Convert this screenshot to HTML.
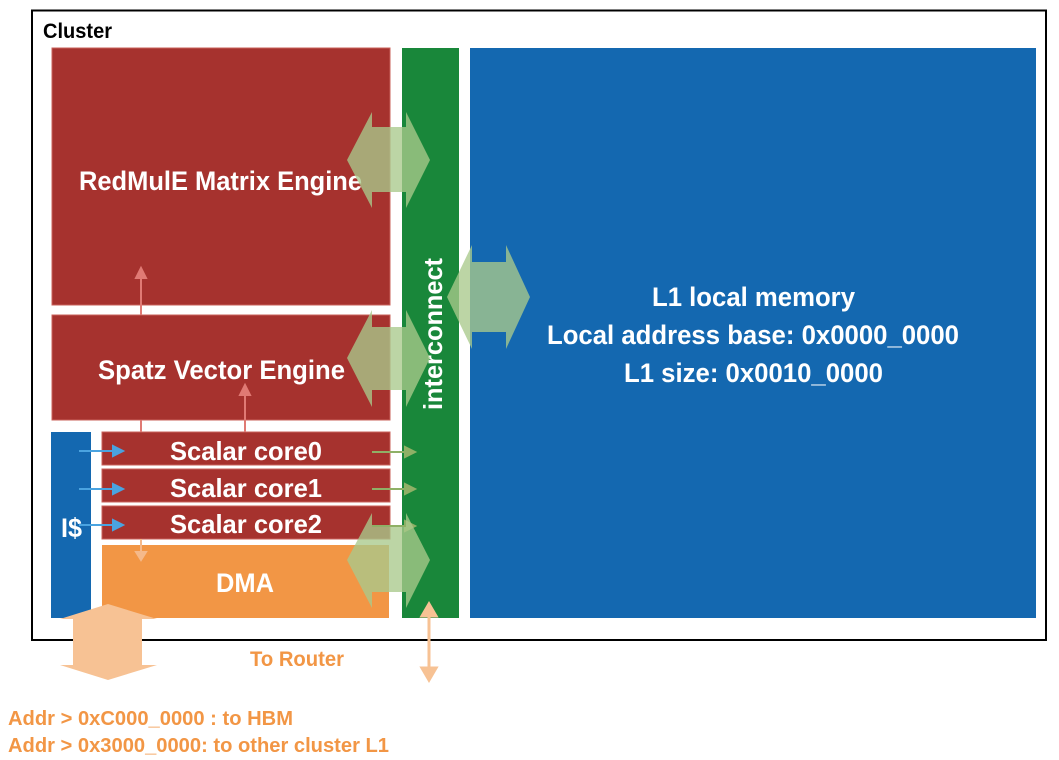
<!DOCTYPE html>
<html><head><meta charset="utf-8"><style>html,body{margin:0;padding:0;background:#fff}svg{display:block}</style></head>
<body>
<svg width="1059" height="760" viewBox="0 0 1059 760" xmlns="http://www.w3.org/2000/svg" font-family="Liberation Sans Narrow, Liberation Sans, sans-serif" font-weight="bold">
<rect x="32" y="10.5" width="1014" height="629.5" fill="none" stroke="#000" stroke-width="2"/>
<text x="43" y="38" font-size="21" fill="#000" textLength="69" lengthAdjust="spacingAndGlyphs">Cluster</text>
<rect x="52" y="48" width="338" height="257" fill="#a6322e" stroke="#c8605a" stroke-width="1"/>
<rect x="52" y="315" width="338" height="105" fill="#a6322e" stroke="#c8605a" stroke-width="1"/>
<rect x="51" y="432" width="40" height="186" fill="#1468b0"/>
<rect x="102" y="432" width="288" height="33" fill="#a6322e" stroke="#c8605a" stroke-width="1"/>
<rect x="102" y="469" width="288" height="33" fill="#a6322e" stroke="#c8605a" stroke-width="1"/>
<rect x="102" y="506" width="288" height="33" fill="#a6322e" stroke="#c8605a" stroke-width="1"/>
<rect x="102" y="545" width="287" height="73" fill="#f29645"/>
<rect x="402" y="48" width="57" height="570" fill="#19873a"/>
<rect x="470" y="48" width="566" height="570" fill="#1468b0"/>
<!-- small arrows -->
<g stroke="#e07a74" stroke-width="2" fill="#e07a74">
<line x1="141" y1="315" x2="141" y2="275"/><polygon points="136,278 146,278 141,268"/>
<line x1="245" y1="432" x2="245" y2="392"/><polygon points="240,395 250,395 245,385"/>
<line x1="141" y1="420" x2="141" y2="432"/><line x1="245" y1="420" x2="245" y2="432"/>
</g>
<g stroke="#f5b98a" stroke-width="2" fill="#f5b98a"><line x1="141" y1="539" x2="141" y2="553"/><polygon points="136,552 146,552 141,560"/></g>
<g stroke="#4aa3e0" stroke-width="2" fill="#4aa3e0">
<line x1="79" y1="451" x2="115" y2="451"/><polygon points="113,446 123,451 113,456"/>
<line x1="79" y1="489" x2="115" y2="489"/><polygon points="113,484 123,489 113,494"/>
<line x1="79" y1="525" x2="115" y2="525"/><polygon points="113,520 123,525 113,530"/>
</g>
<g stroke="#8fb066" stroke-width="2" fill="#8fb066">
<line x1="372" y1="452" x2="407" y2="452"/><polygon points="405,447 415,452 405,457"/>
<line x1="372" y1="489" x2="407" y2="489"/><polygon points="405,484 415,489 405,494"/>
<line x1="372" y1="526" x2="407" y2="526"/><polygon points="405,521 415,526 405,531"/>
</g>
<!-- text -->
<g fill="#fff">
<text x="79" y="190" font-size="27" textLength="283" lengthAdjust="spacingAndGlyphs">RedMulE Matrix Engine</text>
<text x="98" y="379" font-size="27" textLength="247" lengthAdjust="spacingAndGlyphs">Spatz Vector Engine</text>
<text x="170" y="460" font-size="26" textLength="152" lengthAdjust="spacingAndGlyphs">Scalar core0</text>
<text x="170" y="497" font-size="26" textLength="152" lengthAdjust="spacingAndGlyphs">Scalar core1</text>
<text x="170" y="533" font-size="26" textLength="152" lengthAdjust="spacingAndGlyphs">Scalar core2</text>
<text x="216" y="592" font-size="27" textLength="58" lengthAdjust="spacingAndGlyphs">DMA</text>
<text x="61" y="537" font-size="27" textLength="21" lengthAdjust="spacingAndGlyphs">I$</text>
<text transform="translate(442,410) rotate(-90)" font-size="26" textLength="152" lengthAdjust="spacingAndGlyphs">interconnect</text>
<text x="652" y="306" font-size="27" textLength="203" lengthAdjust="spacingAndGlyphs">L1 local memory</text>
<text x="547" y="344" font-size="27" textLength="412" lengthAdjust="spacingAndGlyphs">Local address base: 0x0000_0000</text>
<text x="624" y="382" font-size="27" textLength="259" lengthAdjust="spacingAndGlyphs">L1 size: 0x0010_0000</text>
</g>
<!-- big double arrows -->
<g fill="#a9c98c" fill-opacity="0.78">
<polygon points="347,160 372,112 372,127 406,127 406,112 430,160 406,208 406,192 372,192 372,208"/>
<polygon points="347,358 372,310 372,327 406,327 406,310 430,358 406,407 406,390 372,390 372,407"/>
<polygon points="447,297 472,245 472,262 506,262 506,245 530,297 506,349 506,332 472,332 472,349"/>
<polygon points="347,560 372,513 372,527 406,527 406,513 430,560 406,608 406,592 372,592 372,608"/>
</g>
<!-- router arrows -->
<polygon fill="#f7c294" points="108,604 157,619 142,619 142,665 157,665 108,680 60,665 73,665 73,619 60,619"/>
<g fill="#f7c294" stroke="#f7c294" stroke-width="3">
<line x1="429" y1="612" x2="429" y2="672"/>
<polygon points="422,616 436,616 429,604"/><polygon points="422,668 436,668 429,680"/>
</g>
<g fill="#f29645">
<text x="250" y="666" font-size="21" textLength="94" lengthAdjust="spacingAndGlyphs">To Router</text>
<text x="8" y="725" font-size="20" textLength="285" lengthAdjust="spacingAndGlyphs">Addr &gt; 0xC000_0000 : to HBM</text>
<text x="8" y="752" font-size="20" textLength="381" lengthAdjust="spacingAndGlyphs">Addr &gt; 0x3000_0000: to other cluster L1</text>
</g>
</svg>
</body></html>
